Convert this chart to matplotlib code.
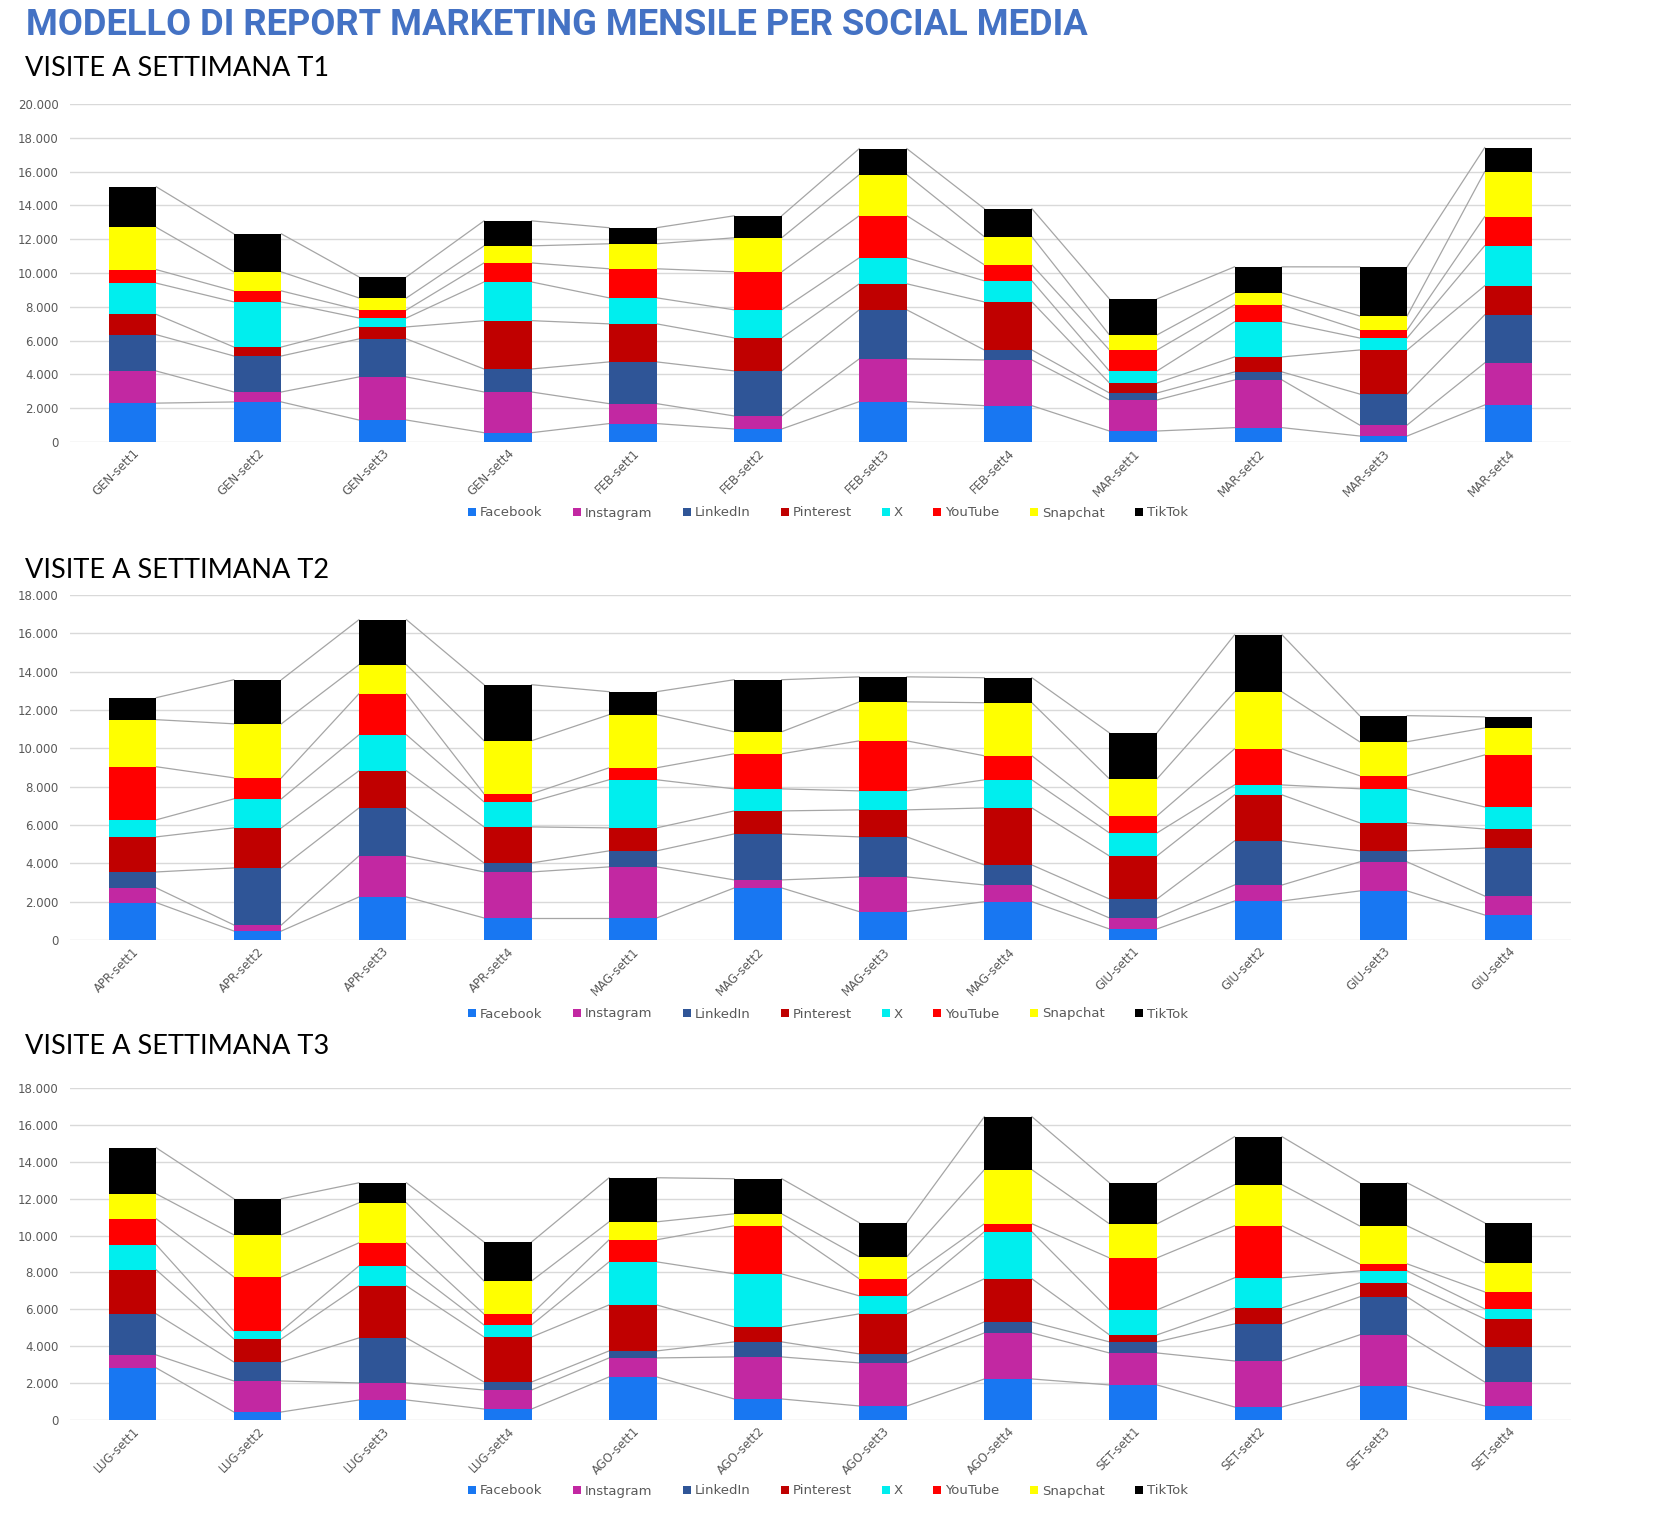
import matplotlib
matplotlib.use("Agg")
import matplotlib.pyplot as plt
from matplotlib.patches import Patch
from matplotlib.ticker import FuncFormatter, MultipleLocator
import numpy as np

TITLE = "MODELLO DI REPORT MARKETING MENSILE PER SOCIAL MEDIA"
PLATFORMS = ["Facebook", "Instagram", "LinkedIn", "Pinterest", "X", "YouTube", "Snapchat", "TikTok"]
COLORS = ["#1877F2", "#C228A2", "#2F5597", "#C00000", "#00EEEE", "#FF0000", "#FFFF00", "#000000"]

# --- T1 ---
T1_LABELS = ["GEN-sett1", "GEN-sett2", "GEN-sett3", "GEN-sett4", "FEB-sett1", "FEB-sett2",
             "FEB-sett3", "FEB-sett4", "MAR-sett1", "MAR-sett2", "MAR-sett3", "MAR-sett4"]
T1_FACEBOOK  = [2300, 2370, 1300, 550, 1090, 770, 2390, 2150, 650, 850, 355, 2190]
T1_INSTAGRAM = [1900, 590, 2550, 2410, 1180, 770, 2530, 2705, 1835, 2820, 650, 2490]
T1_LINKEDIN  = [2150, 2130, 2250, 1360, 2470, 2665, 2900, 590, 415, 475, 1835, 2845]
T1_PINTEREST = [1200, 530, 710, 2860, 2250, 1955, 1540, 2845, 590, 890, 2605, 1720]
T1_X         = [1850, 2670, 530, 2290, 1540, 1660, 1540, 1245, 710, 2075, 710, 2370]
T1_YOUTUBE   = [800, 650, 475, 1125, 1720, 2250, 2490, 950, 1245, 1005, 475, 1720]
T1_SNAPCHAT  = [2500, 1125, 710, 1010, 1480, 2015, 2430, 1660, 890, 710, 830, 2665]
T1_TIKTOK    = [2400, 2250, 1245, 1480, 950, 1300, 1540, 1660, 2130, 1540, 2900, 1420]

# --- T2 ---
T2_LABELS = ["APR-sett1", "APR-sett2", "APR-sett3", "APR-sett4", "MAG-sett1", "MAG-sett2",
             "MAG-sett3", "MAG-sett4", "GIU-sett1", "GIU-sett2", "GIU-sett3", "GIU-sett4"]
T2_FACEBOOK  = [1950, 470, 2245, 1150, 1150, 2715, 1480, 2000, 575, 2035, 2560, 1305]
T2_INSTAGRAM = [765, 315, 2140, 2400, 2665, 420, 1810, 870, 575, 835, 1515, 990]
T2_LINKEDIN  = [835, 2975, 2505, 470, 835, 2400, 2090, 1045, 990, 2300, 575, 2505]
T2_PINTEREST = [1830, 2090, 1935, 1880, 1200, 1200, 1410, 2975, 2245, 2400, 1465, 990]
T2_X         = [890, 1515, 1880, 1305, 2510, 1150, 990, 1465, 1200, 520, 1775, 1150]
T2_YOUTUBE   = [2770, 1095, 2140, 420, 625, 1830, 2610, 1255, 890, 1880, 680, 2715]
T2_SNAPCHAT  = [2455, 2820, 1515, 2770, 2770, 1150, 2035, 2770, 1930, 2975, 1775, 1410]
T2_TIKTOK    = [1150, 2300, 2350, 2925, 1200, 2715, 1305, 1305, 2400, 2975, 1360, 575]

# --- T3 ---
T3_LABELS = ["LUG-sett1", "LUG-sett2", "LUG-sett3", "LUG-sett4", "AGO-sett1", "AGO-sett2",
             "AGO-sett3", "AGO-sett4", "SET-sett1", "SET-sett2", "SET-sett3", "SET-sett4"]
T3_FACEBOOK  = [2820, 435, 1085, 595, 2335, 1140, 760, 2225, 1900, 705, 1845, 760]
T3_INSTAGRAM = [705, 1680, 925, 1030, 1030, 2280, 2335, 2495, 1735, 2495, 2770, 1300]
T3_LINKEDIN  = [2225, 1030, 2440, 435, 380, 815, 490, 600, 600, 2010, 2060, 1900]
T3_PINTEREST = [2390, 1250, 2820, 2440, 2495, 815, 2170, 2335, 380, 870, 760, 1520]
T3_X         = [1355, 435, 1085, 650, 2335, 2875, 975, 2550, 1355, 1630, 650, 545]
T3_YOUTUBE   = [1410, 2930, 1250, 595, 1195, 2605, 925, 435, 2820, 2820, 380, 920]
T3_SNAPCHAT  = [1355, 2280, 2170, 1790, 975, 650, 1195, 2930, 1845, 2225, 2060, 1575]
T3_TIKTOK    = [2495, 1955, 1085, 2115, 2390, 1900, 1845, 2875, 2225, 2605, 2335, 2170]

PANELS = [
    ("VISITE A SETTIMANA T1", T1_LABELS,
     [T1_FACEBOOK, T1_INSTAGRAM, T1_LINKEDIN, T1_PINTEREST, T1_X, T1_YOUTUBE, T1_SNAPCHAT, T1_TIKTOK], 20000),
    ("VISITE A SETTIMANA T2", T2_LABELS,
     [T2_FACEBOOK, T2_INSTAGRAM, T2_LINKEDIN, T2_PINTEREST, T2_X, T2_YOUTUBE, T2_SNAPCHAT, T2_TIKTOK], 18000),
    ("VISITE A SETTIMANA T3", T3_LABELS,
     [T3_FACEBOOK, T3_INSTAGRAM, T3_LINKEDIN, T3_PINTEREST, T3_X, T3_YOUTUBE, T3_SNAPCHAT, T3_TIKTOK], 18000),
]

W, H = 1655, 1517
fig = plt.figure(figsize=(W / 100, H / 100), dpi=100)
fig.patch.set_facecolor("white")

def px(x, y):
    return x / W, 1 - y / H

# pixel layout: (subtitle y, plot top y, plot bottom y, legend y)
LAYOUT = [(69, 104, 442, 513), (570, 595, 940, 1014), (1046, 1088, 1420, 1491)]
LEFT, RIGHT = 70, 1571
BAR_W = 0.38
GRAY = "#595959"

fig.text(*px(26, 25), TITLE, fontsize=26.2, fontweight="bold", color="#4472C4",
         family="Roboto", va="center", ha="left")

thousands = FuncFormatter(lambda v, p: f"{int(v):,}".replace(",", "."))

for (subtitle, labels, series, ymax), (ty, top, bot, legy) in zip(PANELS, LAYOUT):
    fig.text(*px(25, ty), subtitle, fontsize=19.5, fontweight="normal", family="Lato",
             color="black", va="center", ha="left")
    l, b = px(LEFT, bot)
    ax = fig.add_axes([l, b, (RIGHT - LEFT) / W, (bot - top) / H])
    x = np.arange(len(labels))
    data = np.array(series, dtype=float)
    cum = np.cumsum(data, axis=0)
    bottoms = np.vstack([np.zeros(len(labels)), cum[:-1]])
    for k, name in enumerate(PLATFORMS):
        ax.bar(x, data[k], bottom=bottoms[k], width=BAR_W, color=COLORS[k], label=name, zorder=3)
        # series lines joining the top of each segment between neighbouring bars
        for i in range(len(labels) - 1):
            ax.plot([x[i] + BAR_W / 2, x[i + 1] - BAR_W / 2], [cum[k, i], cum[k, i + 1]],
                    color="#A5A5A5", lw=0.9, zorder=2)
    ax.set_xlim(-0.5, len(labels) - 0.5)
    ax.set_ylim(0, ymax)
    ax.yaxis.set_major_locator(MultipleLocator(2000))
    ax.yaxis.set_major_formatter(thousands)
    ax.grid(axis="y", color="#D9D9D9", lw=1, zorder=0)
    for s in ax.spines.values():
        s.set_visible(False)
    ax.tick_params(axis="both", length=0, colors=GRAY, labelsize=8.5)
    ax.tick_params(axis="y", pad=8)
    ax.set_xticks(x)
    ax.set_xticklabels(labels, rotation=45, ha="right", rotation_mode="anchor")
    handles = [Patch(facecolor=c, label=n) for c, n in zip(COLORS, PLATFORMS)]
    fig.legend(handles=handles, loc="center", bbox_to_anchor=px(828, legy), ncol=8,
               frameon=False, fontsize=9.5, handlelength=0.6, handleheight=0.6,
               handletextpad=0.3, columnspacing=2.3, labelcolor=GRAY)

fig.savefig("out.png", dpi=100, facecolor="white")
